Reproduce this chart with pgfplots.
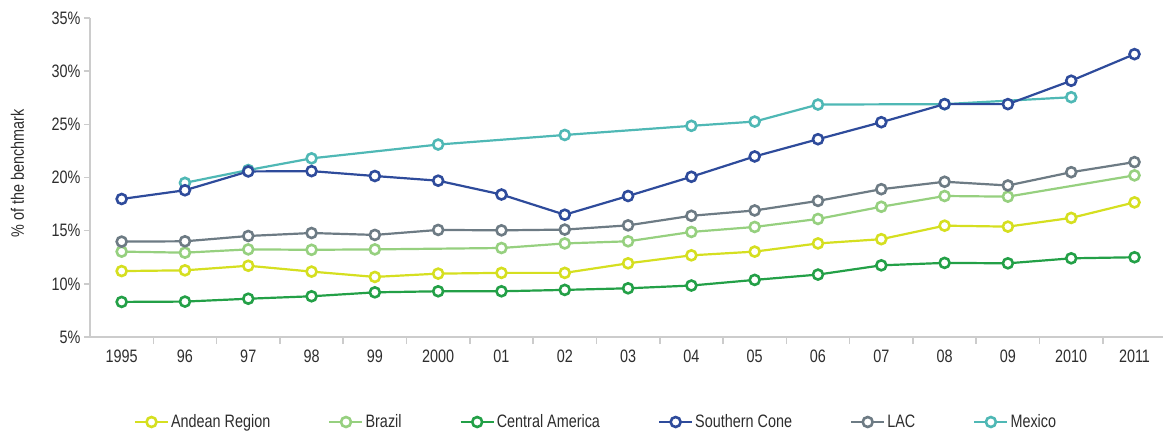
\documentclass[border=0pt]{standalone}
\usepackage{fontspec}
\setmainfont{Liberation Sans}[FakeStretch=0.8]
\usepackage{pgfplots}
\pgfplotsset{compat=1.18}
\definecolor{andean}{RGB}{213,223,32}
\definecolor{brazil}{RGB}{150,208,127}
\definecolor{central}{RGB}{35,160,71}
\definecolor{southern}{RGB}{46,75,155}
\definecolor{lac}{RGB}{109,123,132}
\definecolor{mexico}{RGB}{79,184,181}
\definecolor{axisgray}{RGB}{204,204,204}
\definecolor{textgray}{RGB}{45,45,45}
\newcommand\chartfont{\fontsize{18}{20}\selectfont}
\pgfplotsset{
  ser/.style={color=#1, line width=2.2pt, mark=*, mark size=5pt,
    mark options={fill=white, draw=#1, line width=2.6pt, solid}},
}
\begin{document}
\begin{tikzpicture}
\useasboundingbox (0,0) rectangle (1163pt,434pt);
\begin{axis}[
  at={(90pt,97pt)}, anchor=south west,
  width=1073pt, height=319pt, scale only axis,
  xmin=-0.5, xmax=16.45, ymin=5, ymax=35,
  axis x line=bottom, axis y line=left,
  axis line style={-, draw=axisgray, line width=2pt},
  xtick={0,...,16},
  xticklabels={1995,96,97,98,99,2000,01,02,03,04,05,06,07,08,09,2010,2011},
  ytick={5,10,...,35},
  yticklabels={5\%,10\%,15\%,20\%,25\%,30\%,35\%},
  minor xtick={0.5,1.5,...,15.5},
  tick align=outside,
  major tick length=6pt, minor tick length=7pt,
  major x tick style={draw=none},
  minor x tick style={draw=axisgray, line width=1.6pt},
  y tick style={draw=axisgray, line width=1.6pt},
  /pgf/number format/assume math mode=true,
  tick label style={font=\chartfont, text=textgray},
  xticklabel style={yshift=-3pt},
  ylabel={\% of the benchmark},
  ylabel style={font=\chartfont, text=textgray, at={(axis description cs:-0.0676,0.514)}, anchor=center},
  clip=false,
  legend columns=6,
  legend style={at={(axis description cs:0.4716,-0.2665)}, anchor=center, draw=none, fill=none,
    font=\chartfont, text=textgray,
    nodes={inner xsep=2pt},
    /tikz/every even column/.append style={column sep=56pt}},
  legend image code/.code={\draw[#1, mark repeat=2, mark phase=2] plot coordinates {(0pt,0pt) (16.5pt,0pt) (33pt,0pt)};},
]
\addplot[ser=andean] coordinates {(0,11.2)(1,11.27)(2,11.7)(3,11.15)(4,10.65)(5,10.96)(6,11.03)(7,11.03)(8,11.93)(9,12.68)(10,13.03)(11,13.8)(12,14.2)(13,15.47)(14,15.38)(15,16.2)(16,17.66)};
\addlegendentry{Andean Region}
\addplot[ser=brazil] coordinates {(0,13.03)(1,12.93)(2,13.24)(3,13.2)(4,13.24)(6,13.37)(7,13.8)(8,14.0)(9,14.88)(10,15.35)(11,16.1)(12,17.25)(13,18.26)(14,18.2)(16,20.2)};
\addlegendentry{Brazil}
\addplot[ser=central] coordinates {(0,8.3)(1,8.33)(2,8.6)(3,8.83)(4,9.2)(5,9.3)(6,9.3)(7,9.43)(8,9.58)(9,9.84)(10,10.37)(11,10.87)(12,11.74)(13,11.97)(14,11.93)(15,12.4)(16,12.5)};
\addlegendentry{Central America}
\addplot[ser=mexico, forget plot] coordinates {(1,19.5)(2,20.7)(3,21.8)(5,23.1)(7,24.0)(9,24.86)(10,25.26)(11,26.86)(13,26.9)(15,27.55)};
\addplot[ser=southern] coordinates {(0,17.98)(1,18.8)(2,20.57)(3,20.6)(4,20.14)(5,19.7)(6,18.4)(7,16.5)(8,18.26)(9,20.07)(10,21.98)(11,23.6)(12,25.2)(13,26.9)(14,26.9)(15,29.1)(16,31.6)};
\addlegendentry{Southern Cone}
\addplot[ser=lac] coordinates {(0,13.97)(1,14.0)(2,14.5)(3,14.78)(4,14.6)(5,15.07)(6,15.03)(7,15.1)(8,15.5)(9,16.4)(10,16.9)(11,17.8)(12,18.9)(13,19.6)(14,19.25)(15,20.5)(16,21.45)};
\addlegendentry{LAC}
\addlegendimage{ser=mexico}
\addlegendentry{Mexico}
\end{axis}
\end{tikzpicture}
\end{document}
